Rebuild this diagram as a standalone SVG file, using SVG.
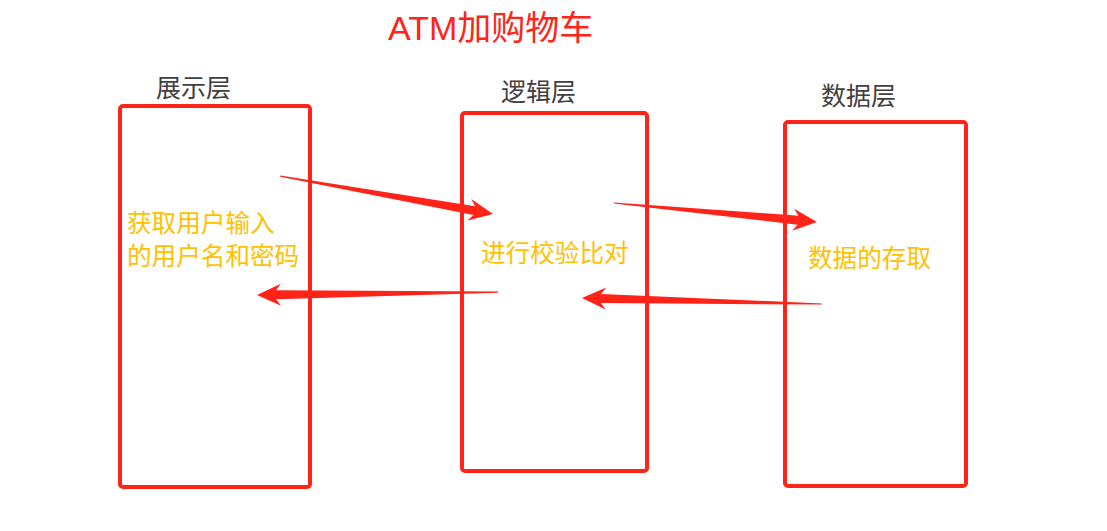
<svg xmlns="http://www.w3.org/2000/svg" width="1107" height="531" viewBox="0 0 1107 531">
<style>
.box{fill:none;stroke:#FF2318;stroke-width:4;}
.hdr{font-family:"Noto Sans CJK SC","Noto Sans",sans-serif;font-size:25px;fill:#404040;}
.lbl{font-family:"Noto Sans CJK SC","Noto Sans",sans-serif;font-size:24.6px;fill:#FFC000;}
.ttl{font-family:"Liberation Sans","Noto Sans CJK SC",sans-serif;font-size:34px;fill:#FF2318;}
.arr{fill:#FF2318;}
</style>
<rect width="1107" height="531" fill="#FFFFFF"/>
<text class="ttl" x="388" y="40">ATM加购物车</text>
<g id="presentation">
<rect class="box" x="120" y="106" width="190" height="381" rx="3"/>
<text class="hdr" x="156" y="97">展示层</text>
<text class="lbl" x="127" y="232">获取用户输入</text>
<text class="lbl" x="127" y="265">的用户名和密码</text>
</g>
<g id="logic">
<rect class="box" x="462" y="113" width="185" height="358" rx="3"/>
<text class="hdr" x="501" y="101">逻辑层</text>
<text class="lbl" x="481" y="262">进行校验比对</text>
</g>
<g id="data">
<rect class="box" x="785" y="122" width="181" height="364" rx="3"/>
<text class="hdr" x="821" y="105">数据层</text>
<text class="lbl" x="808" y="267">数据的存取</text>
</g>
<g id="connectors">
<path class="arr" transform="translate(493,214) rotate(10.1)" d="M0,0 L-24,-11 L-19,-4.5 L-216,-0.6 L-216,0.6 L-19,4.5 L-24,11 Z"/>
<path class="arr" transform="translate(257,295) rotate(179.3)" d="M0,0 L-24,-11 L-19,-4.5 L-241,-0.6 L-241,0.6 L-19,4.5 L-24,11 Z"/>
<path class="arr" transform="translate(817,222) rotate(5.35)" d="M0,0 L-24,-11 L-19,-4.5 L-204,-0.6 L-204,0.6 L-19,4.5 L-24,11 Z"/>
<path class="arr" transform="translate(582,298) rotate(-178.57)" d="M0,0 L-24,-11 L-19,-4.5 L-240,-0.6 L-240,0.6 L-19,4.5 L-24,11 Z"/>
</g>
</svg>
